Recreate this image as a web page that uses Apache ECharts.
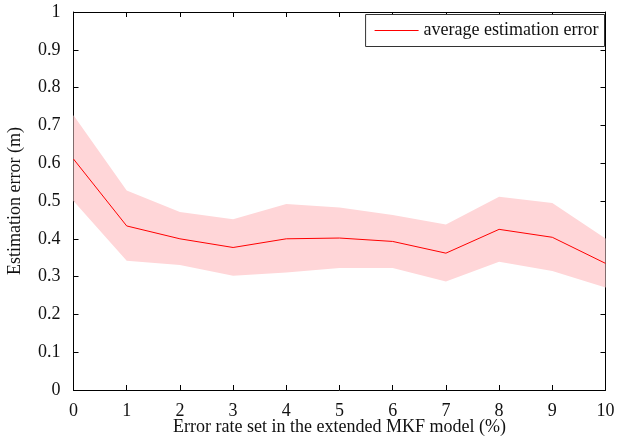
<!DOCTYPE html>
<html>
<head>
<meta charset="utf-8">
<script src="https://cdn.jsdelivr.net/npm/echarts@6/dist/echarts.min.js"></script>
<style>
  html, body { margin: 0; padding: 0; background: #fff; }
  #chart { width: 617px; height: 436px; }
</style>
</head>
<body>
<div id="chart"></div>
<script>
// error rate (%) on the x axis
const errorRates = ['0', '1', '2', '3', '4', '5', '6', '7', '8', '9', '10']
// average estimation error (m)
const meanErr = [0.611, 0.434, 0.400, 0.377, 0.400, 0.402, 0.393, 0.362, 0.425, 0.404, 0.335]
// band edges
const upperErr = [0.727, 0.528, 0.471, 0.452, 0.492, 0.483, 0.463, 0.438, 0.511, 0.495, 0.401]
const lowerErr = [0.500, 0.342, 0.331, 0.302, 0.311, 0.323, 0.323, 0.287, 0.339, 0.315, 0.271]

const font = 'Liberation Serif'
const fs = 18
const chart = echarts.init(document.getElementById('chart'))

const axisLine = { show: true, onZero: false, lineStyle: { color: '#000', width: 1 } }
const axisTick = { show: true, inside: true, length: 5, lineStyle: { color: '#000' } }

let option = {
  animation: false,
  grid: { left: 73.5, right: 11.5, top: 12, bottom: 46, outerBoundsMode: 'none' },
  legend: {
    data: [{ name: 'average estimation error', icon: 'rect' }],
    right: 12.5,
    top: 14.5,
    backgroundColor: '#fff',
    borderColor: '#333',
    borderWidth: 1,
    padding: [7, 6, 7, 9],
    itemWidth: 44,
    itemHeight: 1.2,
    itemGap: 5,
    textStyle: { fontFamily: font, fontSize: fs, color: '#111' }
  },
  xAxis: [
    {
      type: 'category',
      data: errorRates,
      boundaryGap: false,
      axisLine: axisLine,
      axisTick: Object.assign({ alignWithLabel: true }, axisTick),
      splitLine: { show: false },
      name: 'Error rate set in the extended MKF model (%)',
      nameLocation: 'middle',
      nameGap: 28,
      nameMoveOverlap: false,
      nameTextStyle: { fontFamily: font, fontSize: fs, color: '#111' },
      axisLabel: { fontFamily: font, fontSize: fs, color: '#111', margin: 12 }
    },
    {
      type: 'category',
      data: errorRates,
      position: 'top',
      boundaryGap: false,
      axisLine: axisLine,
      axisTick: axisTick,
      axisLabel: { show: false }
    }
  ],
  yAxis: [
    {
      type: 'value',
      min: 0, max: 1, interval: 0.1,
      axisLine: axisLine,
      axisTick: axisTick,
      splitLine: { show: false },
      name: 'Estimation error (m)',
      nameLocation: 'middle',
      nameGap: 49,
      nameMoveOverlap: false,
      nameTextStyle: { fontFamily: font, fontSize: fs, color: '#111' },
      axisLabel: { fontFamily: font, fontSize: fs, color: '#111', margin: 13 }
    },
    {
      type: 'value',
      position: 'right',
      min: 0, max: 1, interval: 0.1,
      axisLine: axisLine,
      axisTick: axisTick,
      splitLine: { show: false },
      axisLabel: { show: false }
    }
  ],
  series: [
    {
      name: 'band-low',
      type: 'line',
      stack: 'band',
      data: lowerErr,
      symbol: 'none',
      lineStyle: { opacity: 0 },
      areaStyle: { opacity: 0 },
      silent: true
    },
    {
      name: 'band-high',
      type: 'line',
      stack: 'band',
      data: upperErr.map((v, i) => v - lowerErr[i]),
      symbol: 'none',
      lineStyle: { opacity: 0 },
      areaStyle: { color: '#ffd6d8', opacity: 1 },
      silent: true
    },
    {
      name: 'average estimation error',
      type: 'line',
      data: meanErr,
      symbol: 'none',
      color: '#ff0000',
      lineStyle: { color: '#ff0000', width: 1 },
      z: 5
    }
  ]
}

chart.setOption(option)
</script>
</body>
</html>
